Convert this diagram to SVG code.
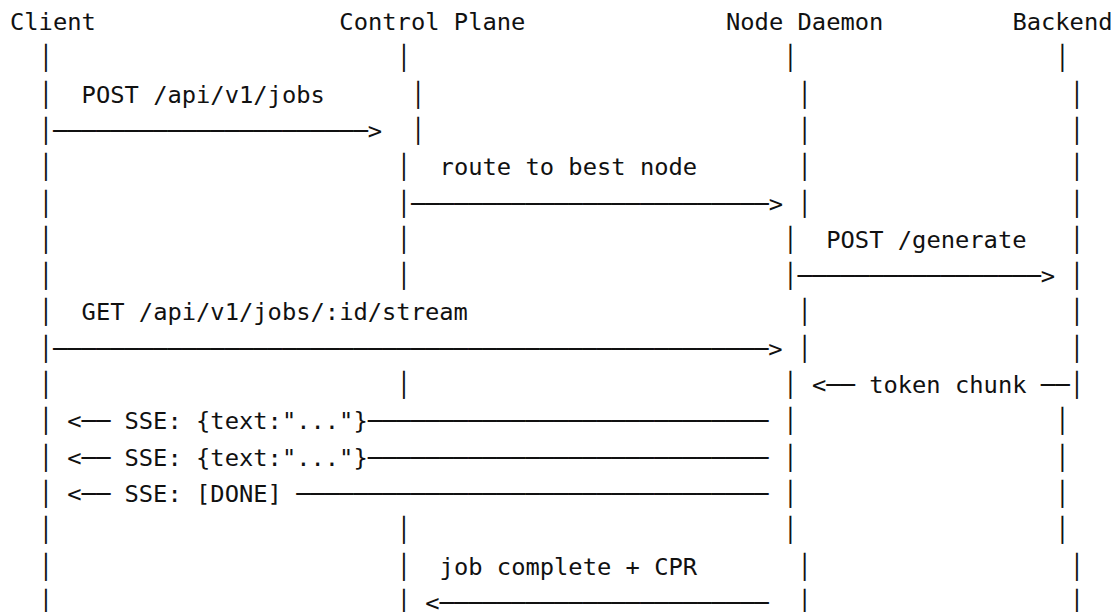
<svg xmlns="http://www.w3.org/2000/svg" width="1115" height="612" viewBox="0 0 1115 612">
<style>
text{font-family:"DejaVu Sans Mono","Liberation Mono",monospace;font-size:23.78px;fill:#111;white-space:pre}
</style>
<rect width="1115" height="612" fill="#fff"/>
<g id="client">
<text x="10" y="30">Client</text>
<text><tspan x="38.64" y="66.3">│</tspan><tspan x="38.64" y="102.6">│</tspan><tspan x="38.64" y="138.9">│</tspan><tspan x="38.64" y="175.2">│</tspan><tspan x="38.64" y="211.5">│</tspan><tspan x="38.64" y="247.8">│</tspan><tspan x="38.64" y="284.1">│</tspan><tspan x="38.64" y="320.4">│</tspan><tspan x="38.64" y="356.7">│</tspan><tspan x="38.64" y="393">│</tspan><tspan x="38.64" y="429.3">│</tspan><tspan x="38.64" y="465.6">│</tspan><tspan x="38.64" y="501.9">│</tspan><tspan x="38.64" y="538.2">│</tspan><tspan x="38.64" y="574.5">│</tspan><tspan x="38.64" y="610.8">│</tspan></text>
</g>
<g id="control-plane">
<text x="339.36" y="30">Control Plane</text>
<text><tspan x="396.64" y="66.3">│</tspan><tspan x="410.96" y="102.6">│</tspan><tspan x="410.96" y="138.9">│</tspan><tspan x="396.64" y="175.2">│</tspan><tspan x="396.64" y="211.5">│</tspan><tspan x="396.64" y="247.8">│</tspan><tspan x="396.64" y="284.1">│</tspan><tspan x="396.64" y="393">│</tspan><tspan x="396.64" y="538.2">│</tspan><tspan x="396.64" y="574.5">│</tspan><tspan x="396.64" y="610.8">│</tspan></text>
</g>
<g id="node-daemon">
<text x="726" y="30">Node Daemon</text>
<text><tspan x="783.28" y="66.3">│</tspan><tspan x="797.6" y="102.6">│</tspan><tspan x="797.6" y="138.9">│</tspan><tspan x="797.6" y="175.2">│</tspan><tspan x="797.6" y="211.5">│</tspan><tspan x="783.28" y="247.8">│</tspan><tspan x="783.28" y="284.1">│</tspan><tspan x="797.6" y="320.4">│</tspan><tspan x="797.6" y="356.7">│</tspan><tspan x="783.28" y="393">│</tspan><tspan x="783.28" y="429.3">│</tspan><tspan x="783.28" y="465.6">│</tspan><tspan x="783.28" y="501.9">│</tspan><tspan x="783.28" y="538.2">│</tspan><tspan x="797.6" y="574.5">│</tspan><tspan x="797.6" y="610.8">│</tspan></text>
</g>
<g id="backend">
<text x="1012.4" y="30">Backend</text>
<text><tspan x="1055.36" y="66.3">│</tspan><tspan x="1069.68" y="102.6">│</tspan><tspan x="1069.68" y="138.9">│</tspan><tspan x="1069.68" y="175.2">│</tspan><tspan x="1069.68" y="211.5">│</tspan><tspan x="1069.68" y="247.8">│</tspan><tspan x="1069.68" y="284.1">│</tspan><tspan x="1069.68" y="320.4">│</tspan><tspan x="1069.68" y="356.7">│</tspan><tspan x="1069.68" y="393">│</tspan><tspan x="1055.36" y="429.3">│</tspan><tspan x="1055.36" y="465.6">│</tspan><tspan x="1055.36" y="501.9">│</tspan><tspan x="1055.36" y="538.2">│</tspan><tspan x="1069.68" y="574.5">│</tspan><tspan x="1069.68" y="610.8">│</tspan></text>
</g>
<g id="connectors">
<text x="81.6" y="102.6">POST /api/v1/jobs</text>
<text x="52.96" y="138.9">──────────────────────&gt;</text>
<text x="439.6" y="175.2">route to best node</text>
<text x="410.96" y="211.5">─────────────────────────&gt;</text>
<text x="826.24" y="247.8">POST /generate</text>
<text x="797.6" y="284.1">─────────────────&gt;</text>
<text x="81.6" y="320.4">GET /api/v1/jobs/:id/stream</text>
<text x="52.96" y="356.7">──────────────────────────────────────────────────&gt;</text>
<text x="811.92" y="393">&lt;── token chunk ──</text>
<text x="67.28" y="429.3">&lt;── SSE: {text:"..."}────────────────────────────</text>
<text x="67.28" y="465.6">&lt;── SSE: {text:"..."}────────────────────────────</text>
<text x="67.28" y="501.9">&lt;── SSE: [DONE] ─────────────────────────────────</text>
<text x="439.6" y="574.5">job complete + CPR</text>
<text x="425.28" y="610.8">&lt;───────────────────────</text>
</g>
</svg>
